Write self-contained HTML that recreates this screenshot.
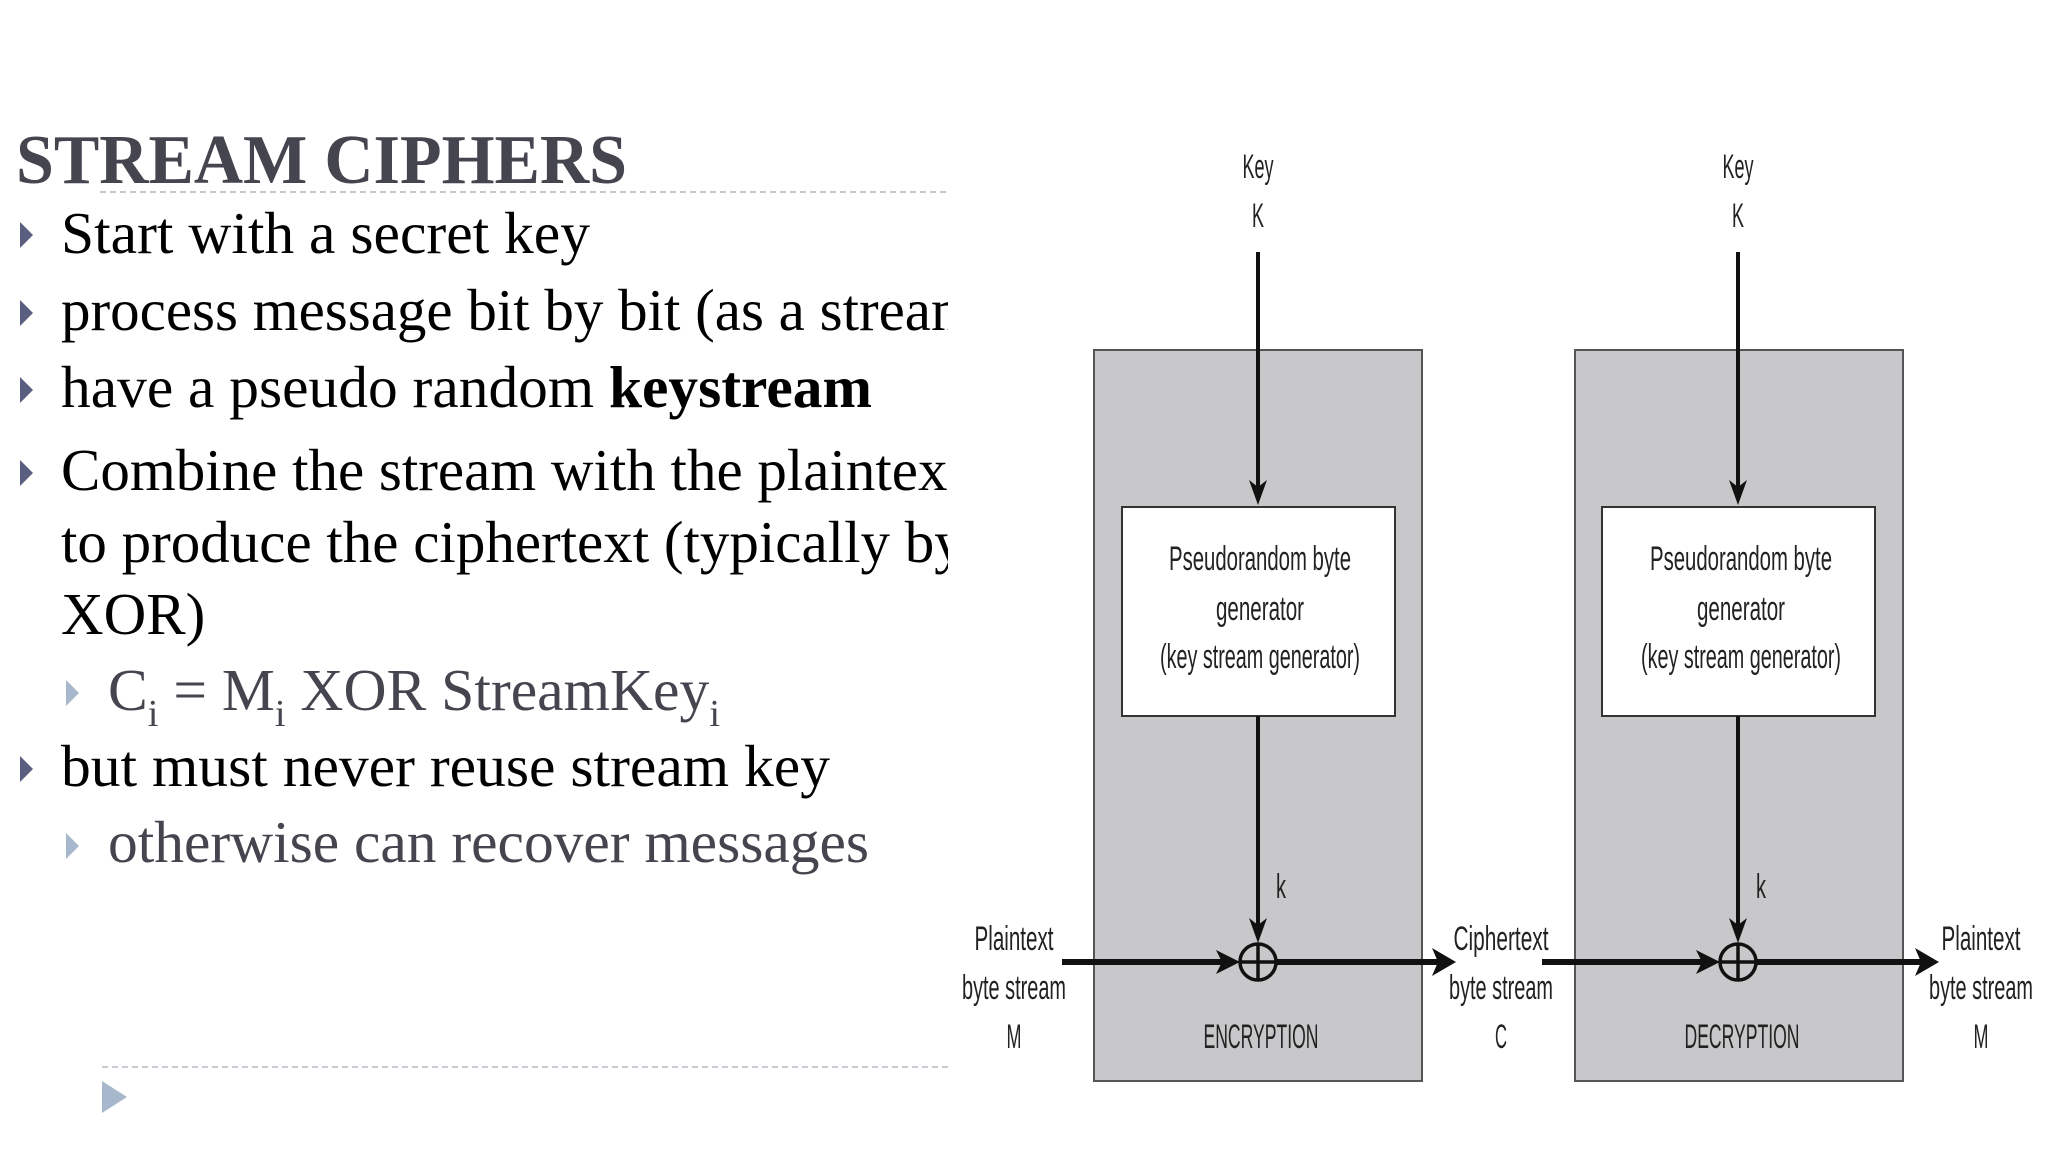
<!DOCTYPE html>
<html><head><meta charset="utf-8"><style>
html,body{margin:0;padding:0;background:#fff;}
svg{display:block;}
</style></head><body>
<svg width="2048" height="1152" viewBox="0 0 2048 1152" xmlns="http://www.w3.org/2000/svg">
<defs>
<clipPath id="clip"><rect x="0" y="0" width="948" height="1152"/></clipPath>
</defs>
<rect width="2048" height="1152" fill="#fff"/>
<!-- Title -->
<text x="16" y="183" font-family="Liberation Serif, serif" font-weight="bold" font-size="70" fill="#45454f" textLength="611" lengthAdjust="spacingAndGlyphs">STREAM CIPHERS</text>
<line x1="100" y1="192" x2="948" y2="192" stroke="#c8c8cc" stroke-width="2" stroke-dasharray="6,4"/>
<g fill="#5a5f80">
<path d="M20,222 L33,235 L20,248 z"/>
<path d="M20,300 L33,313 L20,326 z"/>
<path d="M20,377 L33,390 L20,403 z"/>
<path d="M20,460 L33,473 L20,486 z"/>
<path d="M20,756 L33,769 L20,782 z"/>
</g>
<g fill="#a8b8cc">
<path d="M66,680 L79,693 L66,706 z"/>
<path d="M66,833 L79,846 L66,859 z"/>
<path d="M102,1081 L127,1097 L102,1113 z"/>
</g>
<g font-family="Liberation Serif, serif" font-size="59" fill="#000" clip-path="url(#clip)">
<text x="61" y="253" textLength="529" lengthAdjust="spacingAndGlyphs">Start with a secret key</text>
<text x="61" y="330">process message bit by bit (as a stream)</text>
<text x="61" y="407" textLength="811" lengthAdjust="spacingAndGlyphs">have a pseudo random <tspan font-weight="bold">keystream</tspan></text>
<text x="61" y="490">Combine the stream with the plaintext</text>
<text x="61" y="562">to produce the ciphertext (typically by</text>
<text x="61" y="634">XOR)</text>
<text x="108" y="710" fill="#45454f" textLength="612" lengthAdjust="spacingAndGlyphs">C<tspan font-size="38" dy="16">i</tspan><tspan dy="-16"> = M</tspan><tspan font-size="38" dy="16">i</tspan><tspan dy="-16"> XOR StreamKey</tspan><tspan font-size="38" dy="16">i</tspan></text>
<text x="61" y="786" textLength="769" lengthAdjust="spacingAndGlyphs">but must never reuse stream key</text>
<text x="108" y="862" fill="#45454f" textLength="761" lengthAdjust="spacingAndGlyphs">otherwise can recover messages</text>
</g>
<line x1="102" y1="1067" x2="948" y2="1067" stroke="#c8ccd4" stroke-width="2" stroke-dasharray="6,4"/>

<!-- Diagram -->
<rect x="1094" y="350" width="328" height="731" fill="#c8c8ca" stroke="#555" stroke-width="2"/>
<rect x="1575" y="350" width="328" height="731" fill="#c8c8ca" stroke="#555" stroke-width="2"/>
<rect x="1122" y="507" width="273" height="209" fill="#fff" stroke="#333" stroke-width="2"/>
<rect x="1602" y="507" width="273" height="209" fill="#fff" stroke="#333" stroke-width="2"/>
<g stroke="#111" stroke-width="4" fill="none">
<line x1="1258" y1="252" x2="1258" y2="490"/>
<line x1="1738" y1="252" x2="1738" y2="490"/>
<line x1="1258" y1="716" x2="1258" y2="926"/>
<line x1="1738" y1="716" x2="1738" y2="926"/>
</g>
<g fill="#111">
<path d="M1258,505 L1249,480 L1258,487 L1267,480 z"/>
<path d="M1738,505 L1729,480 L1738,487 L1747,480 z"/>
<path d="M1258,943 L1249,918 L1258,925 L1267,918 z"/>
<path d="M1738,943 L1729,918 L1738,925 L1747,918 z"/>
</g>
<g stroke="#111" stroke-width="6" fill="none">
<line x1="1062" y1="962" x2="1225" y2="962"/>
<line x1="1276" y1="962" x2="1440" y2="962"/>
<line x1="1542" y1="962" x2="1705" y2="962"/>
<line x1="1756" y1="962" x2="1923" y2="962"/>
</g>
<g fill="#111">
<path d="M1240,962 L1216,950 L1222,962 L1216,974 z"/>
<path d="M1456,962 L1432,948 L1438,962 L1432,976 z"/>
<path d="M1720,962 L1696,950 L1702,962 L1696,974 z"/>
<path d="M1939,962 L1915,948 L1921,962 L1915,976 z"/>
</g>
<g stroke="#111" stroke-width="3.5" fill="none">
<circle cx="1258" cy="962" r="18"/><line x1="1240" y1="962" x2="1276" y2="962"/><line x1="1258" y1="944" x2="1258" y2="980"/>
<circle cx="1738" cy="962" r="18"/><line x1="1720" y1="962" x2="1756" y2="962"/><line x1="1738" y1="944" x2="1738" y2="980"/>
</g>
<g font-family="Liberation Sans Narrow, Liberation Sans, sans-serif" font-size="34" fill="#222" text-anchor="middle">
<text x="1258" y="178" textLength="31" lengthAdjust="spacingAndGlyphs">Key</text>
<text x="1258" y="227" textLength="12" lengthAdjust="spacingAndGlyphs">K</text>
<text x="1738" y="178" textLength="31" lengthAdjust="spacingAndGlyphs">Key</text>
<text x="1738" y="227" textLength="12" lengthAdjust="spacingAndGlyphs">K</text>
<text x="1260" y="570" textLength="182" lengthAdjust="spacingAndGlyphs">Pseudorandom byte</text>
<text x="1260" y="620" textLength="88" lengthAdjust="spacingAndGlyphs">generator</text>
<text x="1260" y="668" textLength="200" lengthAdjust="spacingAndGlyphs">(key stream generator)</text>
<text x="1741" y="570" textLength="182" lengthAdjust="spacingAndGlyphs">Pseudorandom byte</text>
<text x="1741" y="620" textLength="88" lengthAdjust="spacingAndGlyphs">generator</text>
<text x="1741" y="668" textLength="200" lengthAdjust="spacingAndGlyphs">(key stream generator)</text>
<text x="1281" y="898" textLength="10" lengthAdjust="spacingAndGlyphs">k</text>
<text x="1761" y="898" textLength="10" lengthAdjust="spacingAndGlyphs">k</text>
<text x="1261" y="1048" textLength="115" lengthAdjust="spacingAndGlyphs">ENCRYPTION</text>
<text x="1742" y="1048" textLength="115" lengthAdjust="spacingAndGlyphs">DECRYPTION</text>
<text x="1014" y="950" textLength="79" lengthAdjust="spacingAndGlyphs">Plaintext</text>
<text x="1014" y="999" textLength="104" lengthAdjust="spacingAndGlyphs">byte stream</text>
<text x="1014" y="1048" textLength="15" lengthAdjust="spacingAndGlyphs">M</text>
<text x="1501" y="950" textLength="95" lengthAdjust="spacingAndGlyphs">Ciphertext</text>
<text x="1501" y="999" textLength="104" lengthAdjust="spacingAndGlyphs">byte stream</text>
<text x="1501" y="1048" textLength="12" lengthAdjust="spacingAndGlyphs">C</text>
<text x="1981" y="950" textLength="79" lengthAdjust="spacingAndGlyphs">Plaintext</text>
<text x="1981" y="999" textLength="104" lengthAdjust="spacingAndGlyphs">byte stream</text>
<text x="1981" y="1048" textLength="15" lengthAdjust="spacingAndGlyphs">M</text>
</g>
</svg>
</body></html>
